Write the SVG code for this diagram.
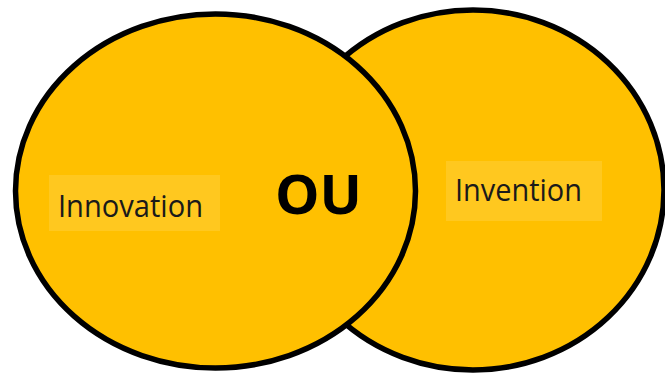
<svg xmlns="http://www.w3.org/2000/svg" width="665" height="376" viewBox="0 0 665 376">
<style>
.circle{fill:#FFC000;stroke:#000;stroke-width:5.5}
.box{fill:#FFC81F}
.lbl{font-family:"Open Sans","Noto Sans",sans-serif;font-size:31px;fill:#1a1a1a}
.ou{font-family:"Open Sans","Noto Sans",sans-serif;font-size:53px;font-weight:bold;fill:#000}
</style>
<rect width="665" height="376" fill="#fff"/>
<g id="invention">
<ellipse class="circle" cx="473" cy="190" rx="191" ry="180"/>
<rect class="box" x="446" y="161" width="156" height="60"/>
<text class="lbl" x="455" y="201" textLength="127" lengthAdjust="spacingAndGlyphs">Invention</text>
</g>
<g id="innovation">
<ellipse class="circle" cx="215.5" cy="191" rx="200" ry="177"/>
<rect class="box" x="49" y="175" width="171" height="56"/>
<text class="lbl" x="58" y="217" textLength="145" lengthAdjust="spacingAndGlyphs">Innovation</text>
<text class="ou" x="275" y="214" textLength="87" lengthAdjust="spacingAndGlyphs">OU</text>
</g>
<g id="connectors"/>
</svg>
